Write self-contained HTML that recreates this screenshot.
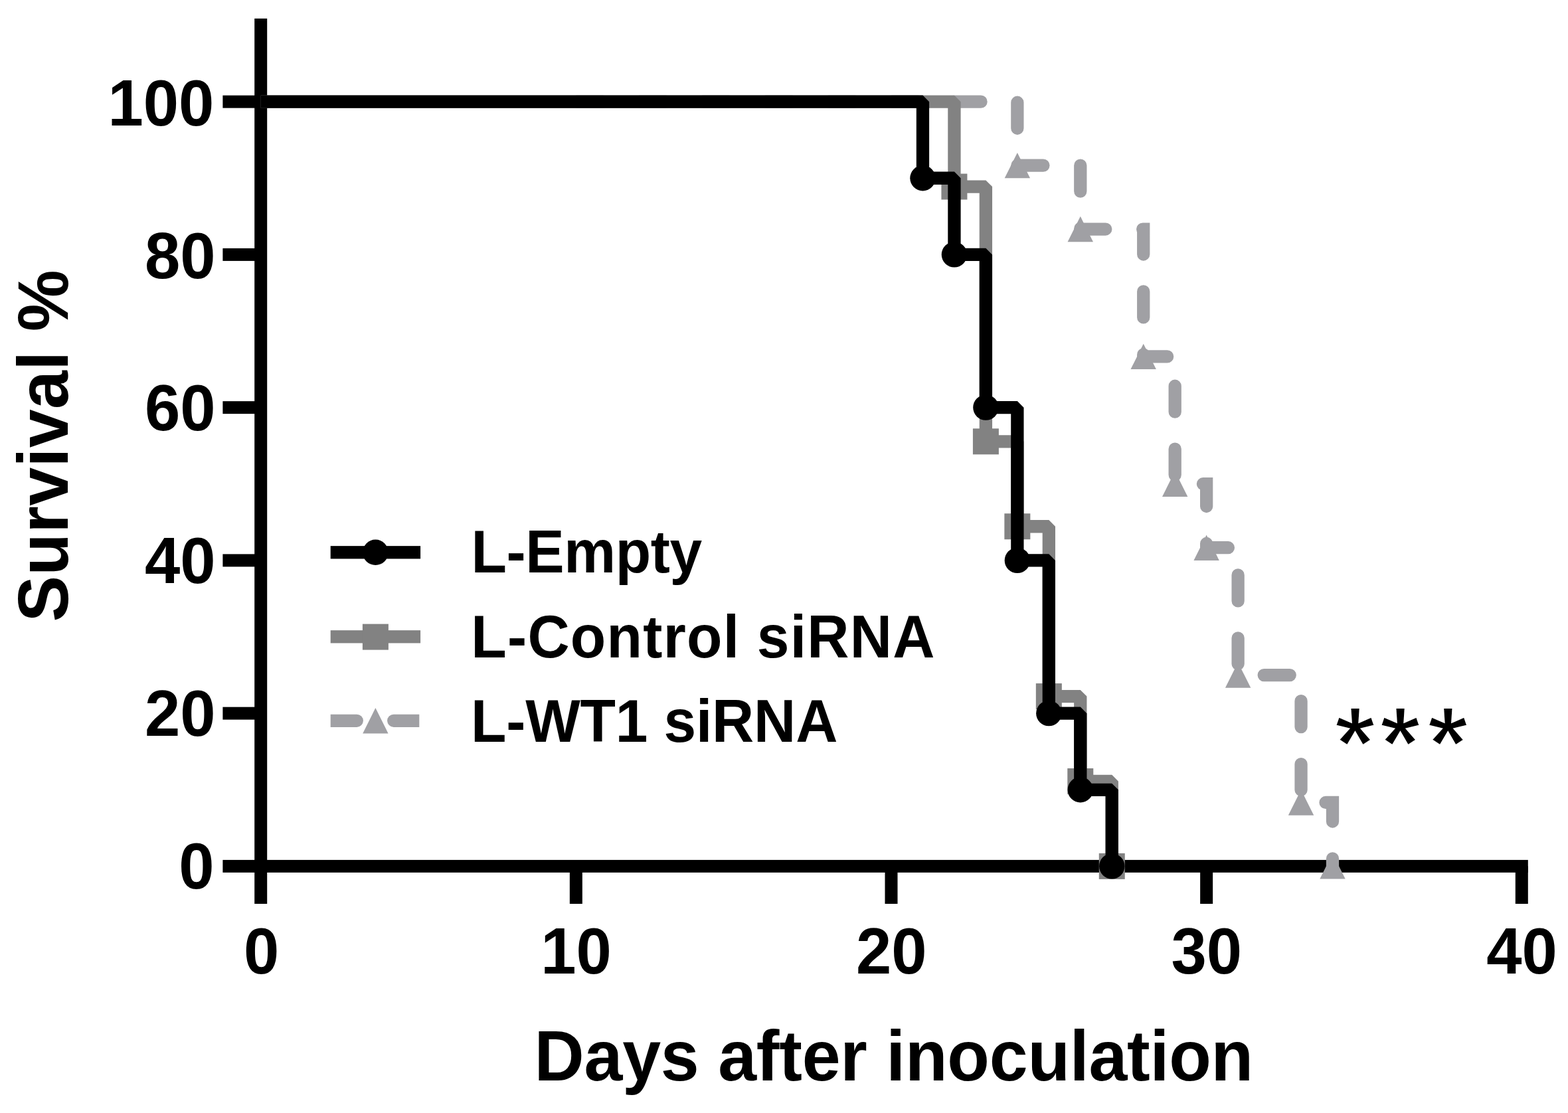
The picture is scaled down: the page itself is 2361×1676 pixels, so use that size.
<!DOCTYPE html>
<html lang="en"><head><meta charset="utf-8"><title>Survival % vs Days after inoculation</title>
<style>
html,body{margin:0;padding:0;background:#fff;}
body{width:2361px;height:1676px;overflow:hidden;}
svg{display:block;}
text{font-family:"Liberation Sans", Arial, Helvetica, sans-serif;font-weight:bold;fill:#000;white-space:pre;}
.tick{font-size:95.83px;}
.title{font-size:104.17px;}
.leg{font-size:87.5px;}
.star{font-size:158.2px;stroke:#fff;stroke-width:4px;stroke-linejoin:miter;paint-order:fill stroke;}
</style></head><body>
<svg width="2361" height="1676" viewBox="0 0 2361 1676" role="img" aria-label="Kaplan-Meier survival curves">
<rect width="2361" height="1676" fill="#fff"/>
<g id="axes" fill="#000">
<rect x="383.20" y="27.90" width="19.00" height="1333.10"/>
<rect x="335.40" y="1294.90" width="1965.40" height="19.00"/>
<rect x="335.40" y="1064.65" width="57.30" height="19.00"/>
<rect x="335.40" y="834.40" width="57.30" height="19.00"/>
<rect x="335.40" y="604.15" width="57.30" height="19.00"/>
<rect x="335.40" y="373.90" width="57.30" height="19.00"/>
<rect x="335.40" y="143.65" width="57.30" height="19.00"/>
<rect x="857.85" y="1304.40" width="19.00" height="56.60"/>
<rect x="1332.50" y="1304.40" width="19.00" height="56.60"/>
<rect x="1807.15" y="1304.40" width="19.00" height="56.60"/>
<rect x="2281.80" y="1304.40" width="19.00" height="56.60"/>
</g>
<g id="wt1">
<path d="M867.35,153.15 L1531.86,153.15 L1531.86,249.08 L1626.79,249.08 L1626.79,345.03 L1721.72,345.03 L1721.72,536.90 L1769.19,536.90 L1769.19,728.77 L1816.65,728.77 L1816.65,824.71 L1864.12,824.71 L1864.12,1016.59 L1959.05,1016.59 L1959.05,1208.47 L2006.51,1208.47 L2006.51,1304.40" fill="none" stroke="#a0a0a4" stroke-width="19.3" stroke-dasharray="39.0 55.9" stroke-dashoffset="93.6" stroke-linecap="round" stroke-linejoin="miter"/>
<polygon points="1531.86,229.88 1551.06,268.28 1512.66,268.28" fill="#a0a0a4"/>
<polygon points="1626.79,325.83 1645.99,364.23 1607.59,364.23" fill="#a0a0a4"/>
<polygon points="1721.72,517.70 1740.92,556.10 1702.52,556.10" fill="#a0a0a4"/>
<polygon points="1769.19,709.57 1788.39,747.98 1749.99,747.98" fill="#a0a0a4"/>
<polygon points="1816.65,805.51 1835.85,843.91 1797.45,843.91" fill="#a0a0a4"/>
<polygon points="1864.12,997.39 1883.32,1035.79 1844.92,1035.79" fill="#a0a0a4"/>
<polygon points="1959.05,1189.27 1978.25,1227.67 1939.85,1227.67" fill="#a0a0a4"/>
<polygon points="2006.51,1285.20 2025.71,1323.60 1987.31,1323.60" fill="#a0a0a4"/>
</g>
<g id="control">
<path d="M392.70,153.15 L1436.93,153.15 L1436.93,281.07 L1484.40,281.07 L1484.40,664.81 L1531.86,664.81 L1531.86,792.74 L1579.33,792.74 L1579.33,1048.57 L1626.79,1048.57 L1626.79,1176.48 L1674.26,1176.48 L1674.26,1304.40" fill="none" stroke="#828282" stroke-width="19.3" stroke-linejoin="bevel"/>
<rect x="1417.43" y="261.57" width="39.0" height="39.0" fill="#828282"/>
<rect x="1464.90" y="645.31" width="39.0" height="39.0" fill="#828282"/>
<rect x="1512.36" y="773.24" width="39.0" height="39.0" fill="#828282"/>
<rect x="1559.83" y="1029.07" width="39.0" height="39.0" fill="#828282"/>
<rect x="1607.29" y="1156.98" width="39.0" height="39.0" fill="#828282"/>
<rect x="1654.76" y="1284.90" width="39.0" height="39.0" fill="#828282"/>
</g>
<g id="empty">
<path d="M392.70,153.15 L1389.47,153.15 L1389.47,268.27 L1436.93,268.27 L1436.93,383.40 L1484.40,383.40 L1484.40,613.65 L1531.86,613.65 L1531.86,843.90 L1579.33,843.90 L1579.33,1074.15 L1626.79,1074.15 L1626.79,1189.28 L1674.26,1189.28 L1674.26,1304.40" fill="none" stroke="#000" stroke-width="19.3" stroke-linejoin="bevel"/>
<circle cx="1389.47" cy="268.27" r="19.20" fill="#000"/>
<circle cx="1436.93" cy="383.40" r="19.20" fill="#000"/>
<circle cx="1484.40" cy="613.65" r="19.20" fill="#000"/>
<circle cx="1531.86" cy="843.90" r="19.20" fill="#000"/>
<circle cx="1579.33" cy="1074.15" r="19.20" fill="#000"/>
<circle cx="1626.79" cy="1189.28" r="19.20" fill="#000"/>
<circle cx="1674.26" cy="1304.40" r="19.20" fill="#000"/>
</g>
<g id="ylabels">
<text class="tick" text-anchor="end" transform="translate(322.26,188.50) scale(1.0000,1.0200)">100</text>
<text class="tick" text-anchor="end" transform="translate(324.66,418.80) scale(1.0000,1.0200)">80</text>
<text class="tick" text-anchor="end" transform="translate(324.66,648.10) scale(1.0000,1.0200)">60</text>
<text class="tick" text-anchor="end" transform="translate(324.66,877.60) scale(1.0000,1.0200)">40</text>
<text class="tick" text-anchor="end" transform="translate(324.66,1108.10) scale(1.0000,1.0200)">20</text>
<text class="tick" text-anchor="end" transform="translate(322.66,1338.40) scale(1.0000,1.0200)">0</text>
</g>
<g id="xlabels">
<text class="tick" text-anchor="middle" transform="translate(393.70,1466.30) scale(1.0000,1.0200)">0</text>
<text class="tick" text-anchor="middle" transform="translate(867.55,1466.30) scale(1.0000,1.0200)">10</text>
<text class="tick" text-anchor="middle" transform="translate(1342.20,1466.30) scale(1.0000,1.0200)">20</text>
<text class="tick" text-anchor="middle" transform="translate(1816.85,1466.30) scale(1.0000,1.0200)">30</text>
<text class="tick" text-anchor="middle" transform="translate(2291.50,1466.30) scale(1.0000,1.0200)">40</text>
</g>
<text class="title" text-anchor="start" transform="translate(804.50,1627.40) scale(1.0000,1.0350)" textLength="1082.7" lengthAdjust="spacing">Days after inoculation</text>
<text class="title" transform="translate(101.6,936.5) rotate(-90) scale(1,1.035)" textLength="530.1" lengthAdjust="spacing">Survival %</text>
<text class="star" x="2009.4 2077.4 2149.3" y="1173.8">***</text>
<g id="legend">
<rect x="497.70" y="822.15" width="135.40" height="19.3" fill="#000"/>
<circle cx="565.40" cy="831.80" r="19.20" fill="#000"/>
<rect x="497.70" y="949.15" width="135.40" height="19.3" fill="#828282"/>
<rect x="545.90" y="939.60" width="39.0" height="39.0" fill="#828282"/>
<path d="M497.70,1075.65 H537.30 A9.65,9.65 0 0 1 537.30,1094.95 H497.70 Z" fill="#a0a0a4"/>
<path d="M631.30,1075.65 H592.70 A9.65,9.65 0 0 0 592.70,1094.95 H631.30 Z" fill="#a0a0a4"/>
<polygon points="565.40,1066.10 584.60,1104.50 546.20,1104.50" fill="#a0a0a4"/>
<text class="leg" text-anchor="start" transform="translate(709.44,862.40) scale(1.0000,1.0400)" textLength="347.7" lengthAdjust="spacing">L-Empty</text>
<text class="leg" text-anchor="start" transform="translate(709.34,990.20) scale(1.0000,1.0400)" textLength="698.0" lengthAdjust="spacing">L-Control siRNA</text>
<text class="leg" text-anchor="start" transform="translate(708.94,1116.60) scale(1.0000,1.0400)" textLength="552.4" lengthAdjust="spacing">L-WT1 siRNA</text>
</g>
</svg>
</body></html>
